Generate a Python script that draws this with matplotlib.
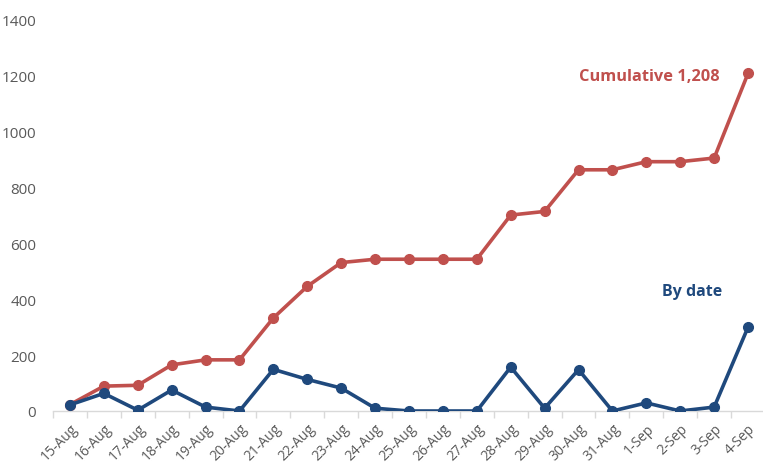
import matplotlib
matplotlib.use("Agg")
import matplotlib.pyplot as plt
import numpy as np

dates = ["15-Aug", "16-Aug", "17-Aug", "18-Aug", "19-Aug", "20-Aug", "21-Aug",
         "22-Aug", "23-Aug", "24-Aug", "25-Aug", "26-Aug", "27-Aug", "28-Aug",
         "29-Aug", "30-Aug", "31-Aug", "1-Sep", "2-Sep", "3-Sep", "4-Sep"]
by_date = [22, 63, 3, 75, 14, 0, 149, 113, 82, 10, 0, 0, 0, 157, 10, 148, 0, 29, 0, 14, 300]
cumulative = [23, 89, 92, 165, 183, 183, 333, 446, 531, 543, 543, 543, 543, 701,
              714, 863, 863, 892, 892, 905, 1208]
y_ticks = [0, 200, 400, 600, 800, 1000, 1200, 1400]

RED = "#C0504D"
BLUE = "#1F497D"
GRAY = "#595959"

plt.rcParams["font.family"] = ["Open Sans", "DejaVu Sans"]

fig = plt.figure(figsize=(7.63, 4.64), dpi=100)
ax = fig.add_axes([53 / 763, 52 / 464, 712 / 763, 391.3 / 464])

x = np.arange(len(dates))
ax.plot(x, cumulative, color=RED, lw=2.6, marker="o", ms=7, zorder=3)
ax.plot(x, by_date, color=BLUE, lw=2.6, marker="o", ms=7, zorder=4)

ax.set_xlim(-0.5, len(dates) - 0.5)
ax.set_ylim(0, 1400)
ax.set_yticks(y_ticks)
ax.set_yticklabels([str(v) for v in y_ticks], color=GRAY, fontsize=11)
ax.tick_params(axis="y", length=0, pad=12)

ax.set_xticks(x)
ax.set_xticklabels(dates, rotation=45, ha="right", rotation_mode="anchor",
                   color=GRAY, fontsize=10)
ax.tick_params(axis="x", length=0, pad=7)
ax.set_xticks(np.arange(-0.5, len(dates)), minor=True)
ax.tick_params(axis="x", which="minor", length=5, color="#D9D9D9", width=1)

for side in ["top", "right", "left"]:
    ax.spines[side].set_visible(False)
ax.spines["bottom"].set_color("#D9D9D9")
ax.spines["bottom"].set_linewidth(1)

ax.text(len(dates) - 1.85, 1198, "Cumulative 1,208", color=RED, fontsize=11.8,
        fontweight="bold", ha="right", va="center")
ax.text(len(dates) - 1.75, 428, "By date", color=BLUE, fontsize=11.5,
        fontweight="bold", ha="right", va="center")

fig.savefig("out.png", dpi=100)
